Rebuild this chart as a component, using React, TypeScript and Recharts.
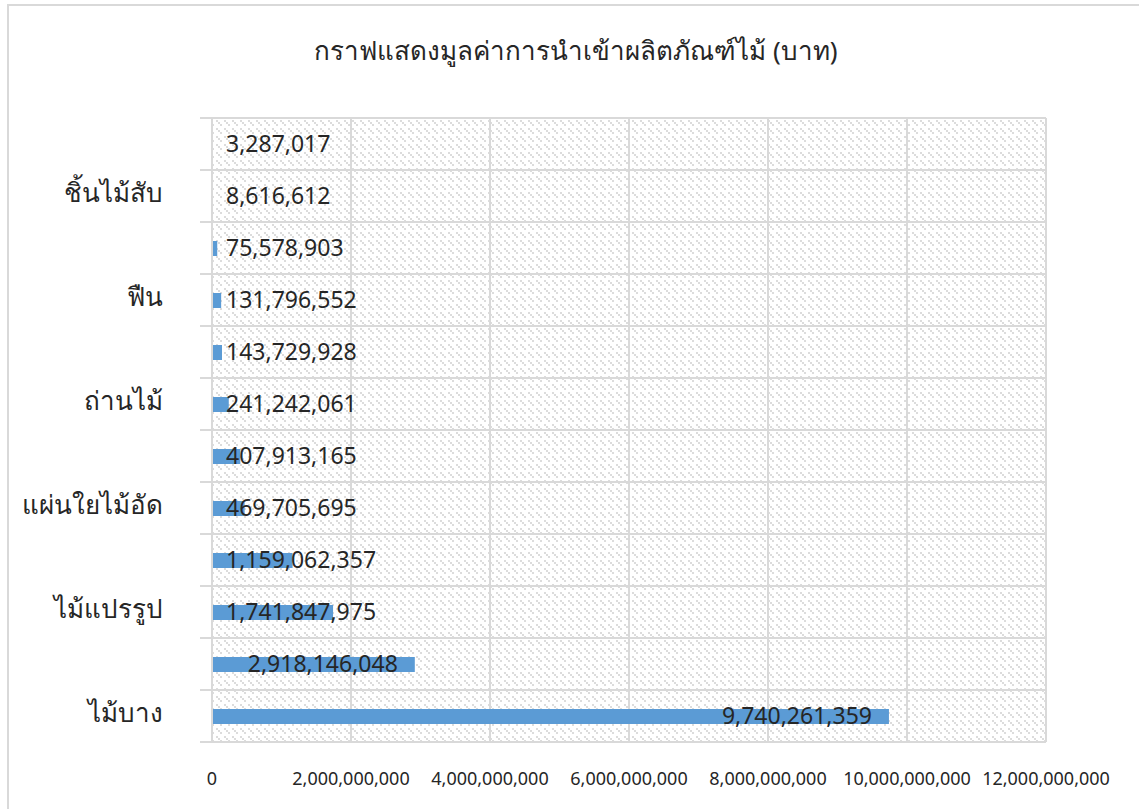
import React from 'react'
import { BarChart, Bar, XAxis, YAxis, CartesianGrid, LabelList } from 'recharts'

// Excel order: first category sits at the bottom
const categories = ['ไม้บาง', '', 'ไม้แปรรูป', '', 'แผ่นใยไม้อัด', '', 'ถ่านไม้', '', 'ฟืน', '', 'ชิ้นไม้สับ', '']
const values = [
  9740261359, 2918146048, 1741847975, 1159062357, 469705695, 407913165,
  241242061, 143729928, 131796552, 75578903, 8616612, 3287017,
]
const xTicks = [0, 2000000000, 4000000000, 6000000000, 8000000000, 10000000000, 12000000000]
const title = 'กราฟแสดงมูลค่าการนำเข้าผลิตภัณฑ์ไม้ (บาท)'

const data = values.map((v, i) => ({ id: String(i), value: v }))

const W = 1139
const H = 809
const PLOT_LEFT = 212
const PLOT_TOP = 118
const PLOT_RIGHT = 1046
const PLOT_BOTTOM = 742
const BAND = (PLOT_BOTTOM - PLOT_TOP) / categories.length
const FONT = 'Tahoma, "Noto Sans", "DejaVu Sans", sans-serif'
const LABEL_SIZE = 23
const GRID = '#d9d9d9'

let ctx: CanvasRenderingContext2D | null = null
const measure = (s: string, font: string) => {
  if (!ctx) ctx = document.createElement('canvas').getContext('2d')
  if (!ctx) return s.length * 12
  ctx.font = font
  return ctx.measureText(s).width
}

const fmt = (v: number) => Number(v).toLocaleString('en-US')

// inside-end label, pushed right when the bar is too short (like Excel)
const ValueLabel = (props: any) => {
  const { x, y, width, height, value } = props
  const text = fmt(value)
  const w = measure(text, `${LABEL_SIZE}px ${FONT}`)
  let tx = x + width - 17 - w
  if (tx < PLOT_LEFT + 14) tx = PLOT_LEFT + 14
  return (
    <text
      x={tx}
      y={y + height / 2 - 2}
      dominantBaseline="central"
      fontSize={LABEL_SIZE}
      fontFamily={FONT}
      fill="#262626"
    >
      {text}
    </text>
  )
}

const CategoryTick = (props: any) => {
  const { y, payload } = props
  const label = categories[Number(payload.value)]
  return (
    <g>
      <line x1={PLOT_LEFT - 12} x2={PLOT_LEFT} y1={y - BAND / 2} y2={y - BAND / 2} stroke={GRID} strokeWidth={2} />
      <line x1={PLOT_LEFT - 12} x2={PLOT_LEFT} y1={y + BAND / 2} y2={y + BAND / 2} stroke={GRID} strokeWidth={2} />
      {label && (
        <text x={163} y={y - 4} textAnchor="end" dominantBaseline="central" fontSize={26} fontFamily={FONT} fill="#262626">
          {label}
        </text>
      )}
    </g>
  )
}

export default function App() {
  return (
    <div style={{ position: 'absolute', left: 0, top: 0, width: W, height: H, overflow: 'hidden', background: '#fff', fontFamily: FONT }}>
      <div
        style={{
          position: 'absolute',
          left: 7,
          top: 4,
          width: W + 40,
          height: H + 40,
          border: `2px solid ${GRID}`,
        }}
      />
      <div
        style={{
          position: 'absolute',
          left: 0,
          width: 1152,
          top: 30,
          textAlign: 'center',
          fontSize: 26,
          color: '#262626',
          whiteSpace: 'nowrap',
        }}
      >
        {title}
      </div>
      <div style={{ position: 'absolute', left: 0, top: 0 }}>
        <BarChart
          width={W}
          height={H}
          data={data}
          layout="vertical"
          margin={{ top: PLOT_TOP, right: W - PLOT_RIGHT, bottom: 0, left: 0 }}
          barSize={15}
        >
          <defs>
            <pattern id="hatch" width="8" height="8" patternUnits="userSpaceOnUse">
              <rect width="8" height="8" fill="#ffffff" />
              <rect x="0" y="0" width="2" height="2" fill="#dcdcdc" />
              <rect x="2" y="2" width="2" height="2" fill="#dcdcdc" />
              <rect x="4" y="4" width="2" height="2" fill="#dcdcdc" />
            </pattern>
          </defs>
          <CartesianGrid
            fill="url(#hatch)"
            stroke={GRID}
            strokeWidth={2}
            horizontalCoordinatesGenerator={({ offset }: any) =>
              categories.map((_, i) => offset.top + i * (offset.height / categories.length)).concat([offset.top + offset.height])
            }
          />
          <XAxis
            type="number"
            domain={[0, 12000000000]}
            ticks={xTicks}
            tickFormatter={fmt}
            height={H - PLOT_BOTTOM}
            axisLine={{ stroke: GRID, strokeWidth: 2 }}
            tickLine={false}
            tickMargin={24}
            tick={{ fontSize: 18, fill: '#262626', fontFamily: FONT }}
            interval={0}
          />
          <YAxis
            type="category"
            dataKey="id"
            reversed
            width={PLOT_LEFT}
            axisLine={{ stroke: GRID, strokeWidth: 2 }}
            tickLine={false}
            interval={0}
            tick={<CategoryTick />}
          />
          <Bar dataKey="value" fill="#5b9bd5" isAnimationActive={false}>
            <LabelList dataKey="value" content={<ValueLabel />} />
          </Bar>
        </BarChart>
      </div>
    </div>
  )
}
